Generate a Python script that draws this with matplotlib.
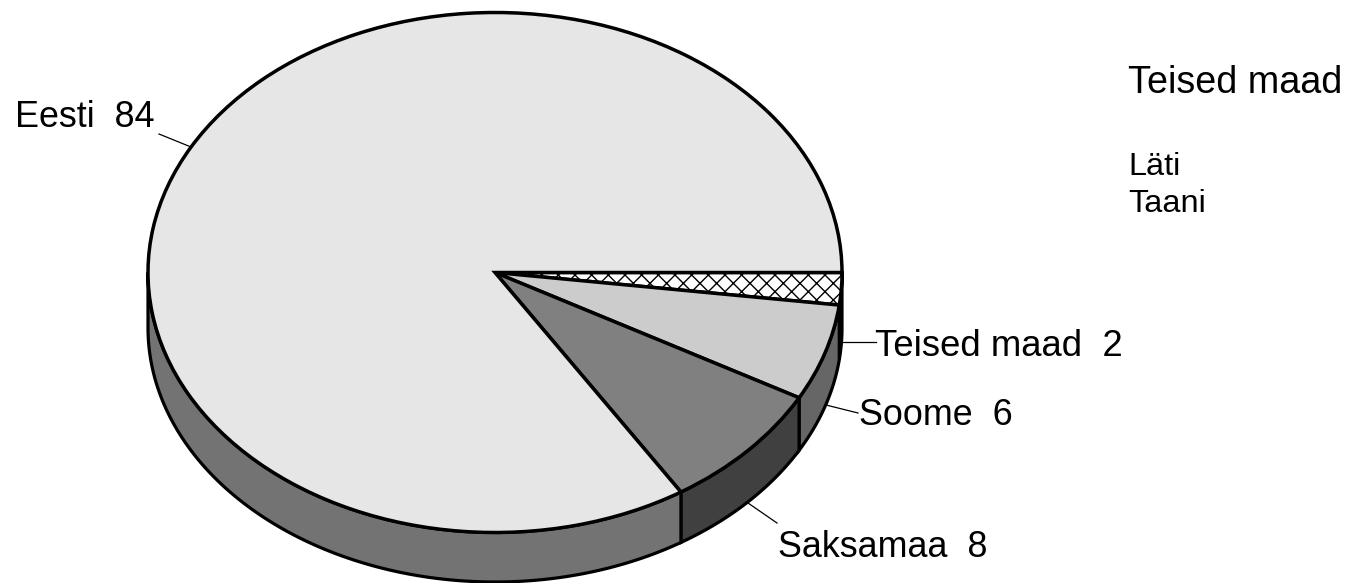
import matplotlib
matplotlib.use("Agg")
import matplotlib.pyplot as plt
import numpy as np

plt.rcParams['font.family'] = ['Liberation Sans', 'DejaVu Sans']
plt.rcParams['hatch.linewidth'] = 1.0

# order is clockwise starting from 3 o'clock
names = ["Teised maad", "Soome", "Saksamaa", "Eesti"]
values = [2, 6, 8, 84]
top_colors = ["white", "#cccccc", "#808080", "#e6e6e6"]
side_colors = ["#333333", "#666666", "#404040", "#737373"]
hatches = ["xx", None, None, None]

other_title = "Teised maad"
other_names = ["Läti", "Taani"]

# pie geometry in pixels
cx, cy = 495, 272.5
rx, ry = 347, 260
# the lower rim is a slightly flatter ellipse than the top one
low_cy = 328
low_ry = 254
W, H = 1348, 583

fig = plt.figure(figsize=(W / 100, H / 100), dpi=100)
ax = fig.add_axes([0, 0, 1, 1])

# side wall, only the front half of the disc is visible
edges = np.cumsum([0] + values) / sum(values) * 360
for i in range(len(values)):
    a0 = edges[i]
    a1 = min(edges[i + 1], 180)
    t = np.radians(np.linspace(a0, a1, 120))
    x = np.cos(t)
    y_top = -np.sin(t)
    y_low = -(low_cy - cy) / ry - np.sin(t) * low_ry / ry
    ax.fill(np.r_[x, x[::-1]], np.r_[y_top, y_low[::-1]],
            facecolor=side_colors[i], edgecolor="black", linewidth=2.3, zorder=1)

wedges, _ = ax.pie(values, startangle=0, counterclock=False, radius=1,
                   colors=top_colors,
                   wedgeprops=dict(edgecolor="black", linewidth=2.5))
for w, h in zip(wedges, hatches):
    w.set_zorder(2)
    if h:
        w.set_hatch(h)

# stretch the unit circle into the ellipse
ax.set_aspect("auto")
ax.set_xlim(-cx / rx, (W - cx) / rx)
ax.set_ylim((cy - H) / ry, cy / ry)
ax.axis("off")

# labels and leader lines on an overlay in pixel coordinates
ov = fig.add_axes([0, 0, 1, 1])
ov.set_xlim(0, W)
ov.set_ylim(H, 0)
ov.axis("off")
ov.patch.set_alpha(0)

label_pos = [(875, 356), (859, 425), (778, 557), (15, 127)]
label_size = [26.3, 25.8, 25.8, 25.8]
leaders = [((842, 342), (876, 342)), ((826, 405), (858, 413)),
           ((748, 503), (777, 523)), ((191, 147), (159, 134))]
for n, v, p, s, l in zip(names, values, label_pos, label_size, leaders):
    ov.text(p[0], p[1], "%s  %d" % (n, v), fontsize=s, color="black", va="baseline", ha="left")
    ov.plot([l[0][0], l[1][0]], [l[0][1], l[1][1]], color="black", linewidth=0.9)

ov.text(1128, 93, other_title, fontsize=27.2, color="black", va="baseline", ha="left")
ov.text(1128, 175, other_names[0], fontsize=23.4, color="black", va="baseline", ha="left")
ov.text(1128, 212, other_names[1], fontsize=23.4, color="black", va="baseline", ha="left")

fig.savefig("out.png", dpi=100, facecolor="white")
